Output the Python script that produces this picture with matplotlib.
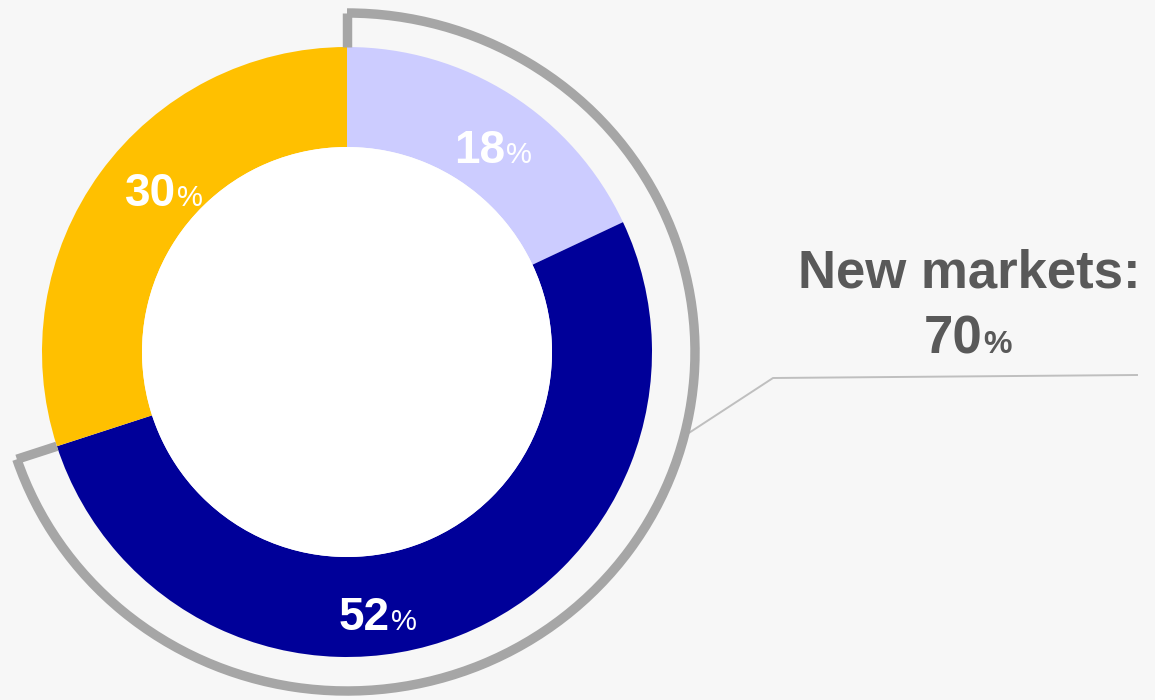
import numpy as np
import matplotlib
matplotlib.use("Agg")
import matplotlib.pyplot as plt
from matplotlib.patches import Arc, Circle

# data
segments = ["Segment A", "Segment B", "Segment C"]
shares = [18, 52, 30]
colors = ["#CCCCFF", "#000099", "#FFC000"]
new_markets_share = shares[0] + shares[1]
callout_title = "New markets:"

# layout (pixel-like data units, y up)
W, H = 1155, 700
cx, cy = 347, 348
r_out, r_in = 305, 205
bx, by = 348, 339  # semi-axes of the bracket
label_anchor = [(505, 537), (390, 70), (176, 494)]

plt.rcParams["font.family"] = ["Liberation Sans", "DejaVu Sans"]
bg = "#F7F7F7"


def on_bracket(a):
    t = np.deg2rad(a)
    r = 1 / np.sqrt((np.cos(t) / bx) ** 2 + (np.sin(t) / by) ** 2)
    return cx + r * np.cos(t), cy + r * np.sin(t)


fig = plt.figure(figsize=(W / 100, H / 100), dpi=100, facecolor=bg)
ax = fig.add_axes([0, 0, 1, 1])
ax.set_facecolor(bg)

ax.pie(shares, colors=colors, startangle=90, counterclock=False,
       radius=r_out, center=(cx, cy),
       wedgeprops=dict(width=r_out - r_in, linewidth=0))
ax.add_patch(Circle((cx, cy), r_in, fc="white", ec="none", zorder=1))

# bracket around the "new markets" part
gray = "#A6A6A6"
lw = 6.8
end_ang = 90 - 360 * new_markets_share / 100
ax.add_patch(Arc((cx, cy), 2 * bx, 2 * by, theta1=end_ang,
                 theta2=90, color=gray, lw=lw, capstyle="butt", zorder=3))
for a in (90, end_ang):
    t = np.deg2rad(a)
    x1, y1 = on_bracket(a)
    ax.plot([cx + r_out * np.cos(t), x1], [cy + r_out * np.sin(t), y1],
            color=gray, lw=lw, solid_capstyle="butt", zorder=3)

# leader line to callout
x0, y0 = on_bracket(-14)
ax.plot([x0, 773, 1137], [y0, 322, 325], color="#BFBFBF", lw=1.4, zorder=2)

txt = "#595959"
ax.text(969, 412, callout_title, ha="center", va="baseline",
        fontsize=38, fontweight="bold", color=txt)
ax.text(983, 347, f"{new_markets_share}", ha="right", va="baseline",
        fontsize=38, fontweight="bold", color=txt)
ax.text(983, 347, "%", ha="left", va="baseline",
        fontsize=23, fontweight="bold", color=txt)

for v, (x, y) in zip(shares, label_anchor):
    ax.text(x, y, f"{v}", ha="right", va="baseline", fontsize=33,
            fontweight="bold", color="white", zorder=4)
    ax.text(x + 1, y, "%", ha="left", va="baseline", fontsize=21,
            color="white", zorder=4)

ax.set_xlim(0, W)
ax.set_ylim(0, H)
ax.set_aspect("equal")
ax.axis("off")

fig.savefig("out.png", dpi=100, facecolor=bg)
